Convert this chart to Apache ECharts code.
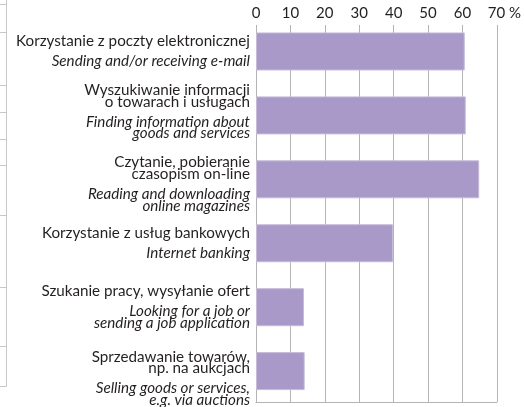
<!DOCTYPE html>
<html lang="pl">
<head>
    <meta charset="UTF-8">
    <title>Internet use</title>
    <script src="https://cdn.jsdelivr.net/npm/echarts@6/dist/echarts.min.js"></script>
    <style>
        html, body { margin: 0; padding: 0; background: #fff; }
        #chart { width: 524px; height: 407px; }
    </style>
</head>
<body>
    <div id="chart"></div>
    <script>
        // dane
        var labelsPl = [
            'Korzystanie z poczty elektronicznej',
            'Wyszukiwanie informacji\no towarach i usługach',
            'Czytanie, pobieranie\nczasopism on-line',
            'Korzystanie z usług bankowych',
            'Szukanie pracy, wysyłanie ofert',
            'Sprzedawanie towarów,\nnp. na aukcjach'
        ];
        var labelsEn = [
            'Sending and/or receiving e-mail',
            'Finding information about\ngoods and services',
            'Reading and downloading\nonline magazines',
            'Internet banking',
            'Looking for a job or\nsending a job application',
            'Selling goods or services,\ne.g. via auctions'
        ];
        var values = [60.5, 60.8, 64.7, 39.7, 13.9, 14.1];
        var ticks = [0, 10, 20, 30, 40, 50, 60, 70];

        // przesuniecie etykiet wzgledem slupka (px, + w dol)
        var labelNudge = [0, -3.6, 4.7, 0, 0, 7.3];

        var font = 'Lato';
        var txt = '#231f20';
        var gridColor = '#b4b4b4';

        function buildLabel(value, idx) {
            var parts = [];
            var n = labelNudge[idx];
            if (n > 0) parts.push('{sp' + idx + '| }');
            labelsPl[idx].split('\n').forEach(function (l) { parts.push('{pl|' + l + '}'); });
            parts.push('{gap| }');
            labelsEn[idx].split('\n').forEach(function (l) { parts.push('{en|' + l + '}'); });
            if (n < 0) parts.push('{sp' + idx + '| }');
            return parts.join('\n');
        }

        var rich = {
            pl: { fontFamily: font, fontSize: 15.2, lineHeight: 11.6, color: txt, align: 'right' },
            en: { fontFamily: font, fontSize: 15.2, fontStyle: 'italic', lineHeight: 11.6, color: txt, align: 'right' },
            gap: { fontSize: 1, lineHeight: 8.4 }
        };
        labelNudge.forEach(function (n, i) {
            rich['sp' + i] = { fontSize: 1, lineHeight: Math.abs(n) * 2 || 1 };
        });

        // ramka tabeli po lewej stronie (obciete krawedzie)
        var stubs = [4, 32, 85, 112, 139, 165, 215, 287, 346, 386];
        var deco = [{
            type: 'line', shape: { x1: 6.5, y1: 0, x2: 6.5, y2: 386.5 },
            style: { stroke: '#c8c8c8', lineWidth: 1 }
        }];
        stubs.forEach(function (y) {
            deco.push({
                type: 'line', shape: { x1: 0, y1: y + 0.5, x2: 6.5, y2: y + 0.5 },
                style: { stroke: '#c8c8c8', lineWidth: 1 }
            });
        });

        var chart = echarts.init(document.getElementById('chart'));
        var option = {
            animation: false,
            graphic: deco,
            grid: [
                { left: 256, right: 26.5, top: 25, bottom: 5 },
                { left: 256, right: 26.5, top: 19.5, height: 389.8 }
            ],
            xAxis: [
                {
                    gridIndex: 0, type: 'value', position: 'top',
                    min: ticks[0], max: ticks[ticks.length - 1], interval: 10,
                    axisLine: { show: false }, axisTick: { show: false },
                    splitLine: { show: true, lineStyle: { color: gridColor, width: 1 } },
                    axisLabel: {
                        margin: 4, fontFamily: font, fontSize: 15, color: txt,
                        formatter: function (v) { return v === 70 ? '{pad| }70 %' : String(v); },
                        rich: { pad: { width: 15 } }
                    }
                },
                {
                    gridIndex: 0, type: 'value', position: 'bottom',
                    min: 0, max: 70, interval: 10,
                    axisLine: { show: true, lineStyle: { color: gridColor, width: 1 } },
                    axisTick: { show: false }, axisLabel: { show: false }, splitLine: { show: false }
                },
                {
                    gridIndex: 1, type: 'value', min: 0, max: 70, show: false
                }
            ],
            yAxis: [
                { gridIndex: 0, type: 'value', show: false },
                {
                    gridIndex: 1, type: 'category', inverse: true,
                    data: labelsPl,
                    axisLine: { show: false }, axisTick: { show: false },
                    axisLabel: { margin: 6, formatter: buildLabel, rich: rich }
                }
            ],
            series: [{
                type: 'bar',
                xAxisIndex: 2, yAxisIndex: 1,
                data: values,
                barWidth: 38,
                itemStyle: { color: '#a899c8', borderColor: '#c4bcd9', borderWidth: 1 }
            }]
        };
        chart.setOption(option);
    </script>
</body>
</html>
